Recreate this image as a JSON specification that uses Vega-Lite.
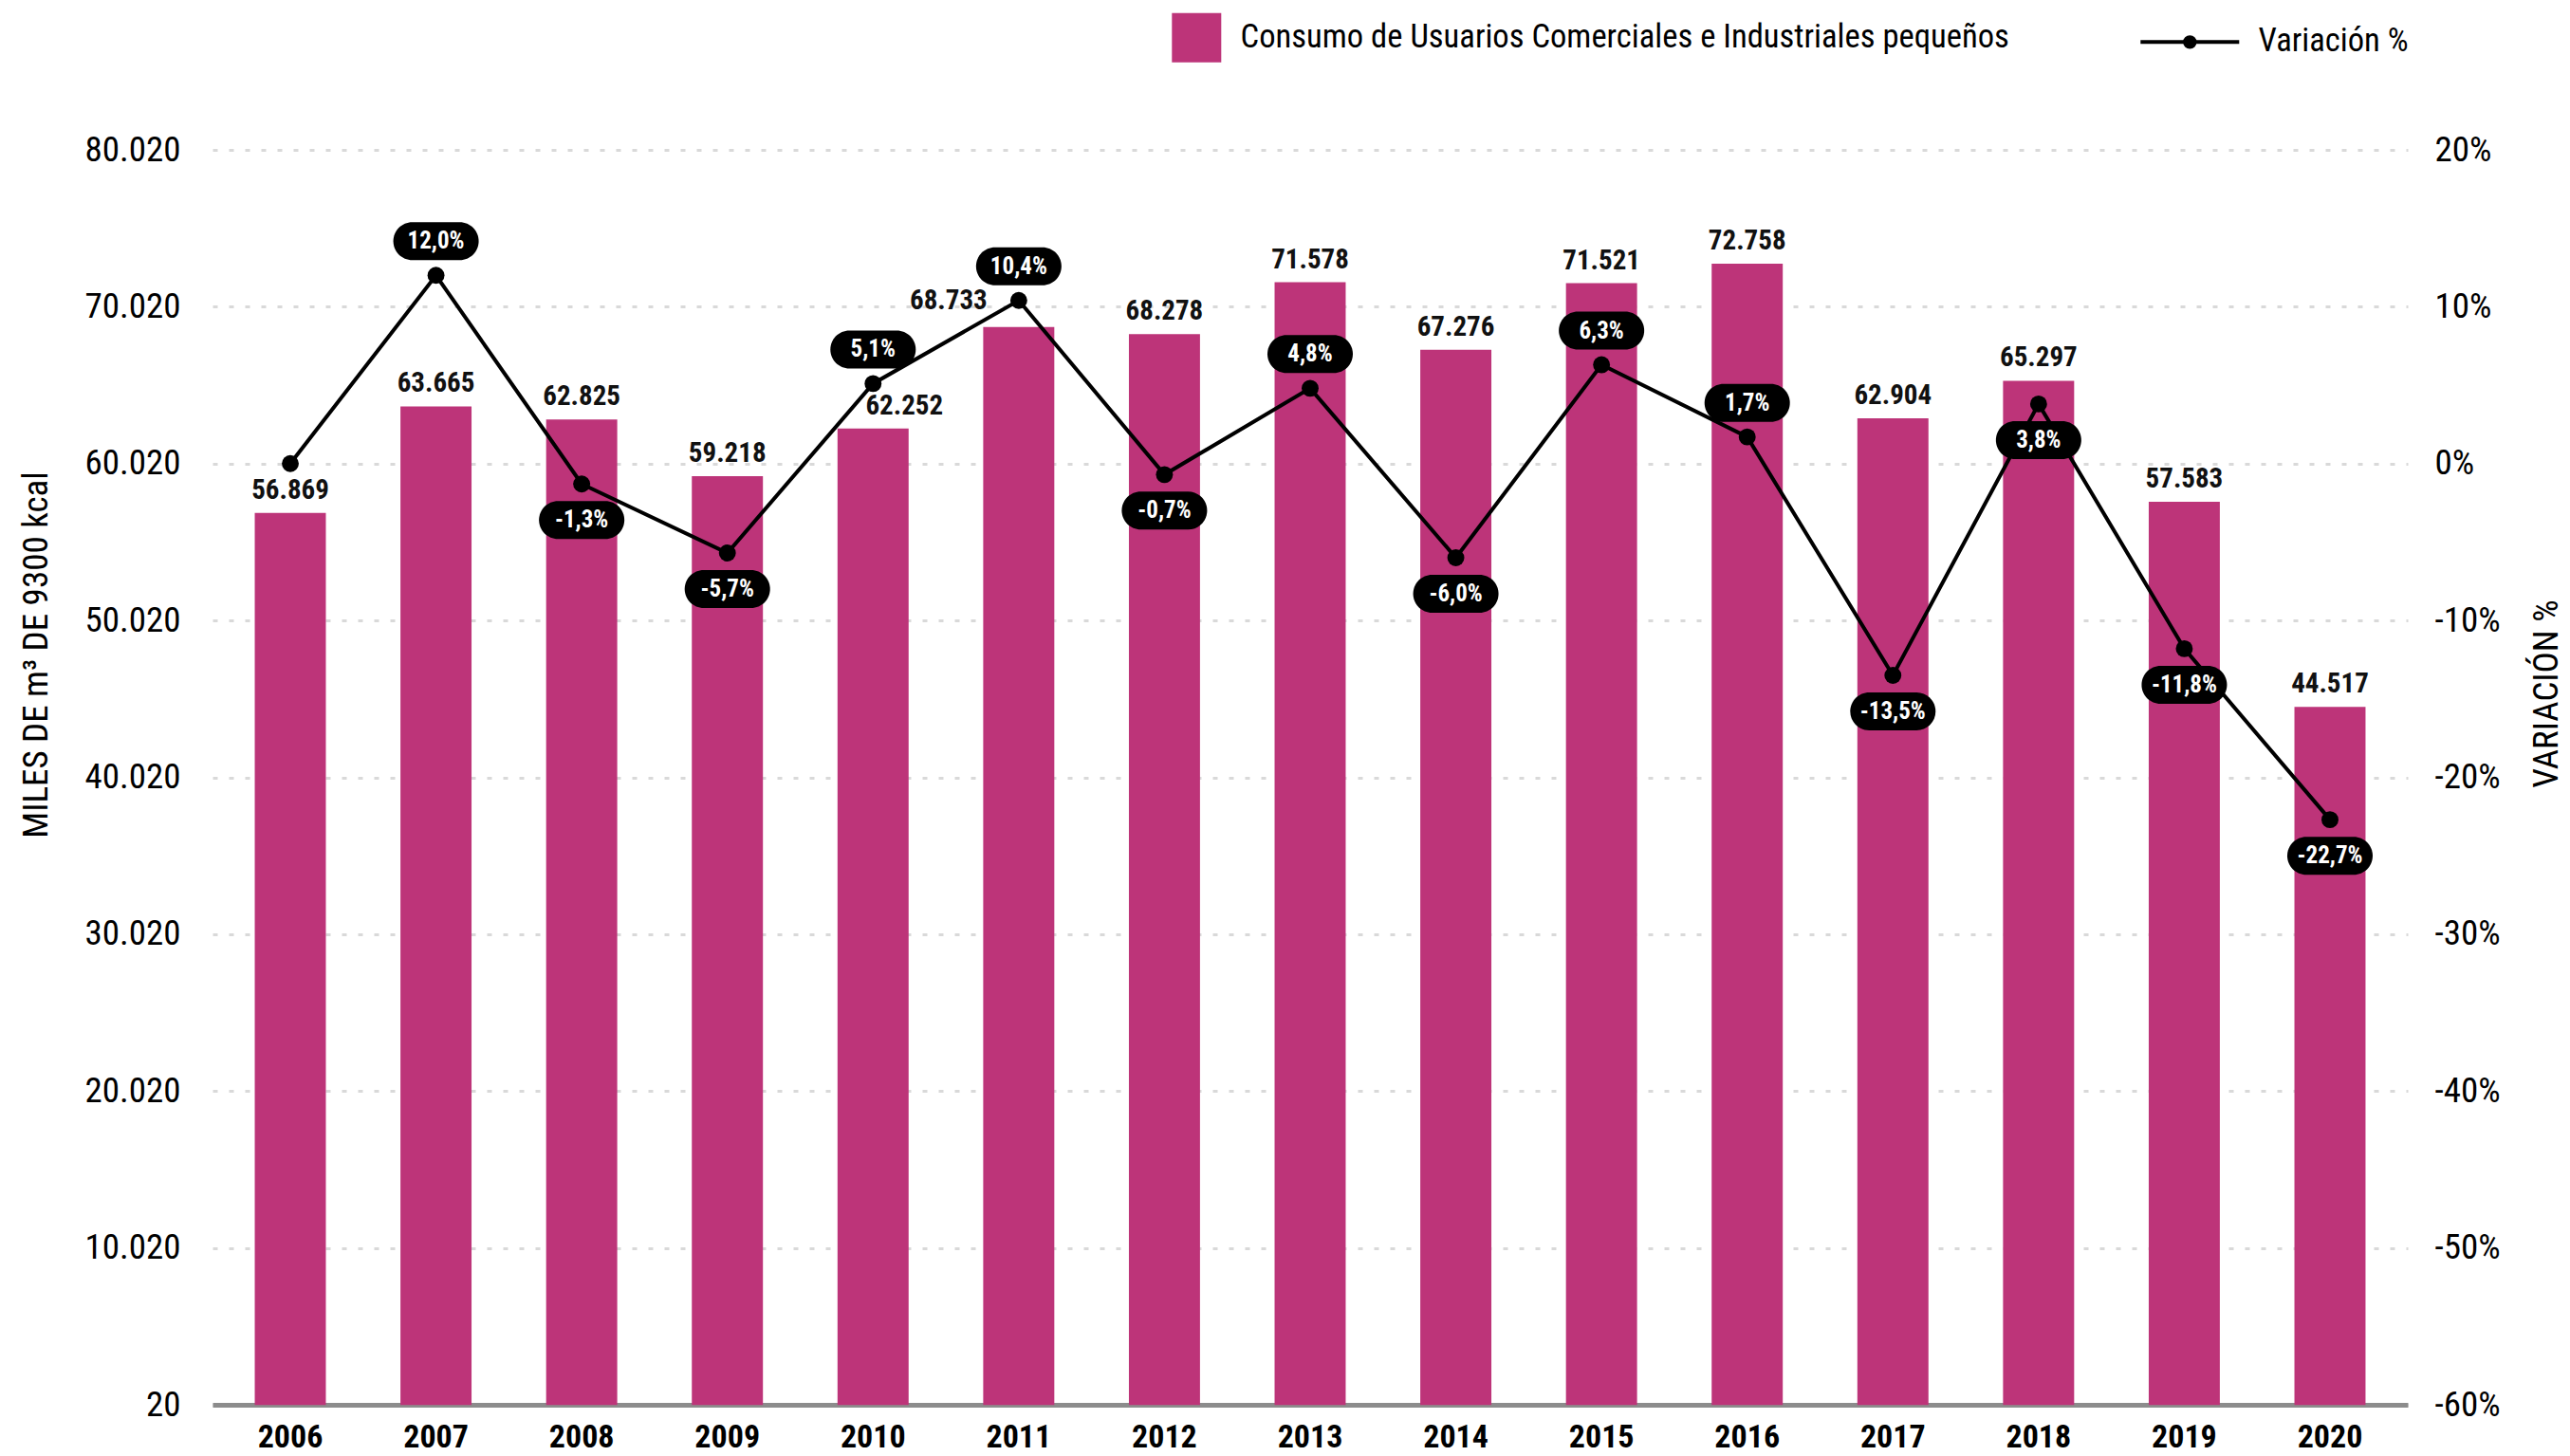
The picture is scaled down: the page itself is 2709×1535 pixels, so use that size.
{
  "$schema": "https://vega.github.io/schema/vega-lite/v6.json",
  "width": 2314,
  "height": 1323,
  "autosize": {"type": "none"},
  "padding": {"left": 224, "top": 158, "right": 171, "bottom": 54},
  "background": "white",
  "config": {
    "locale": {"number": {"decimal": ",", "thousands": ".", "grouping": [3], "currency": ["", ""], "minus": "-"}},
    "font": "Roboto Condensed, Liberation Sans Narrow, DejaVu Sans Condensed, Roboto",
    "view": {"stroke": null}
  },
  "data": {
    "values": [
      {"year": "2006", "consumo": 56869, "var": 0},
      {"year": "2007", "consumo": 63665, "var": 0.12},
      {"year": "2008", "consumo": 62825, "var": -0.013},
      {"year": "2009", "consumo": 59218, "var": -0.057},
      {"year": "2010", "consumo": 62252, "var": 0.051},
      {"year": "2011", "consumo": 68733, "var": 0.104},
      {"year": "2012", "consumo": 68278, "var": -0.007},
      {"year": "2013", "consumo": 71578, "var": 0.048},
      {"year": "2014", "consumo": 67276, "var": -0.06},
      {"year": "2015", "consumo": 71521, "var": 0.063},
      {"year": "2016", "consumo": 72758, "var": 0.017},
      {"year": "2017", "consumo": 62904, "var": -0.135},
      {"year": "2018", "consumo": 65297, "var": 0.038},
      {"year": "2019", "consumo": 57583, "var": -0.118},
      {"year": "2020", "consumo": 44517, "var": -0.227}
    ]
  },
  "encoding": {
    "x": {
      "field": "year", "type": "nominal",
      "scale": {"paddingInner": 0.512, "paddingOuter": 0.29},
      "axis": {"title": null, "labelAngle": 0, "labelFontWeight": "bold", "labelFontSize": 34, "labelColor": "#000", "labelPadding": 17, "ticks": false, "domainColor": "#8c8c8c", "domainWidth": 5, "grid": false}
    }
  },
  "layer": [
    {
      "encoding": {
        "y": {
          "field": "consumo", "type": "quantitative",
          "scale": {"domain": [20, 80020], "nice": false, "zero": false},
          "axis": {
            "values": [20, 10020, 20020, 30020, 40020, 50020, 60020, 70020, 80020],
            "format": ",.0f",
            "title": "MILES DE m³ DE 9300 kcal",
            "titleFontSize": 37, "titleFontWeight": "normal", "titleColor": "#000", "titlePadding": 31, "titleY": 532,
            "labelFontSize": 37, "labelColor": "#000", "labelPadding": 34,
            "ticks": false, "domain": false,
            "grid": true, "gridColor": "#d9d9d9", "gridWidth": 3, "gridDash": [5, 12]
          }
        }
      },
      "layer": [
        {
          "mark": {"type": "bar"},
          "encoding": {
            "color": {
              "datum": "Consumo de Usuarios Comerciales e Industriales pequeños",
              "scale": {"domain": ["Consumo de Usuarios Comerciales e Industriales pequeños", "Variación %"], "range": ["#BD3479", "#000000"]},
              "legend": {
                "title": null,
                "orient": "none",
                "legendX": 1020,
                "legendY": -136,
                "direction": "horizontal",
                "columns": 2,
                "columnPadding": 130,
                "symbolSize": 2704,
                "labelFontSize": 34.6,
                "labelColor": "#000",
                "labelLimit": 2000,
                "labelOffset": 29,
                "encode": {
                  "symbols": {
                    "update": {
                      "shape": {"signal": "datum.value === 'Variación %' ? 'M -3 0 L 1 0 M -1.2 0 A 0.2 0.2 0 1 1 -0.8 0 A 0.2 0.2 0 1 1 -1.2 0 Z' : 'square'"},
                      "fill": {"signal": "datum.value === 'Variación %' ? '#000000' : '#BD3479'"},
                      "stroke": {"signal": "datum.value === 'Variación %' ? '#000000' : '#BD3479'"},
                      "strokeWidth": {"signal": "datum.value === 'Variación %' ? 4 : 0"},
                      "opacity": {"value": 1},
                      "fillOpacity": {"value": 1},
                      "strokeOpacity": {"value": 1}
                    }
                  }
                }
              }
            }
          }
        },
        {
          "transform": [{"filter": {"not": {"field": "year", "oneOf": ["2010", "2011"]}}}],
          "mark": {"type": "text", "baseline": "bottom", "dy": -9, "fontSize": 29, "fontWeight": "bold", "color": "#111"},
          "encoding": {"text": {"field": "consumo", "type": "quantitative", "format": ",.0f"}}
        },
        {
          "transform": [{"filter": {"field": "year", "oneOf": ["2010"]}}],
          "mark": {"type": "text", "baseline": "bottom", "dy": -9, "dx": 33, "fontSize": 29, "fontWeight": "bold", "color": "#111"},
          "encoding": {"text": {"field": "consumo", "type": "quantitative", "format": ",.0f"}}
        },
        {
          "transform": [{"filter": {"field": "year", "oneOf": ["2011"]}}],
          "mark": {"type": "text", "baseline": "bottom", "dy": -13, "dx": -74, "fontSize": 29, "fontWeight": "bold", "color": "#111"},
          "encoding": {"text": {"field": "consumo", "type": "quantitative", "format": ",.0f"}}
        }
      ]
    },
    {
      "encoding": {
        "y": {
          "field": "var", "type": "quantitative",
          "scale": {"domain": [-0.6, 0.2], "nice": false, "zero": false},
          "axis": {
            "orient": "right",
            "values": [-0.6, -0.5, -0.4, -0.3, -0.2, -0.1, 0, 0.1, 0.2],
            "format": ".0%",
            "title": "VARIACIÓN %",
            "titleAngle": 270,
            "titleFontSize": 37, "titleFontWeight": "normal", "titleColor": "#000", "titlePadding": 68, "titleY": 573,
            "labelFontSize": 37, "labelColor": "#000", "labelPadding": 28,
            "ticks": false, "domain": false, "grid": false
          }
        }
      },
      "layer": [
        {
          "mark": {"type": "line", "strokeWidth": 4, "point": {"filled": true, "size": 320}},
          "encoding": {"color": {"datum": "Variación %"}}
        },
        {
          "transform": [{"filter": {"field": "year", "oneOf": ["2007", "2010", "2011", "2013", "2015", "2016"]}}],
          "mark": {"type": "point", "shape": "M -1.25 -1 L 1.25 -1 A 1 1 0 0 1 1.25 1 L -1.25 1 A 1 1 0 0 1 -1.25 -1 Z", "filled": true, "color": "#000", "opacity": 1, "size": 1600, "yOffset": -36},
          "encoding": {}
        },
        {
          "transform": [{"filter": {"not": {"field": "year", "oneOf": ["2006", "2007", "2010", "2011", "2013", "2015", "2016"]}}}],
          "mark": {"type": "point", "shape": "M -1.25 -1 L 1.25 -1 A 1 1 0 0 1 1.25 1 L -1.25 1 A 1 1 0 0 1 -1.25 -1 Z", "filled": true, "color": "#000", "opacity": 1, "size": 1600, "yOffset": 38},
          "encoding": {}
        },
        {
          "transform": [{"filter": {"field": "year", "oneOf": ["2007", "2010", "2011", "2013", "2015", "2016"]}}],
          "mark": {"type": "text", "baseline": "middle", "align": "center", "fontSize": 25, "fontWeight": "bold", "color": "#fff", "yOffset": -36},
          "encoding": {"text": {"field": "var", "type": "quantitative", "format": ".1%"}}
        },
        {
          "transform": [{"filter": {"not": {"field": "year", "oneOf": ["2006", "2007", "2010", "2011", "2013", "2015", "2016"]}}}],
          "mark": {"type": "text", "baseline": "middle", "align": "center", "fontSize": 25, "fontWeight": "bold", "color": "#fff", "yOffset": 38},
          "encoding": {"text": {"field": "var", "type": "quantitative", "format": ".1%"}}
        }
      ]
    }
  ],
  "resolve": {"scale": {"y": "independent"}}
}
